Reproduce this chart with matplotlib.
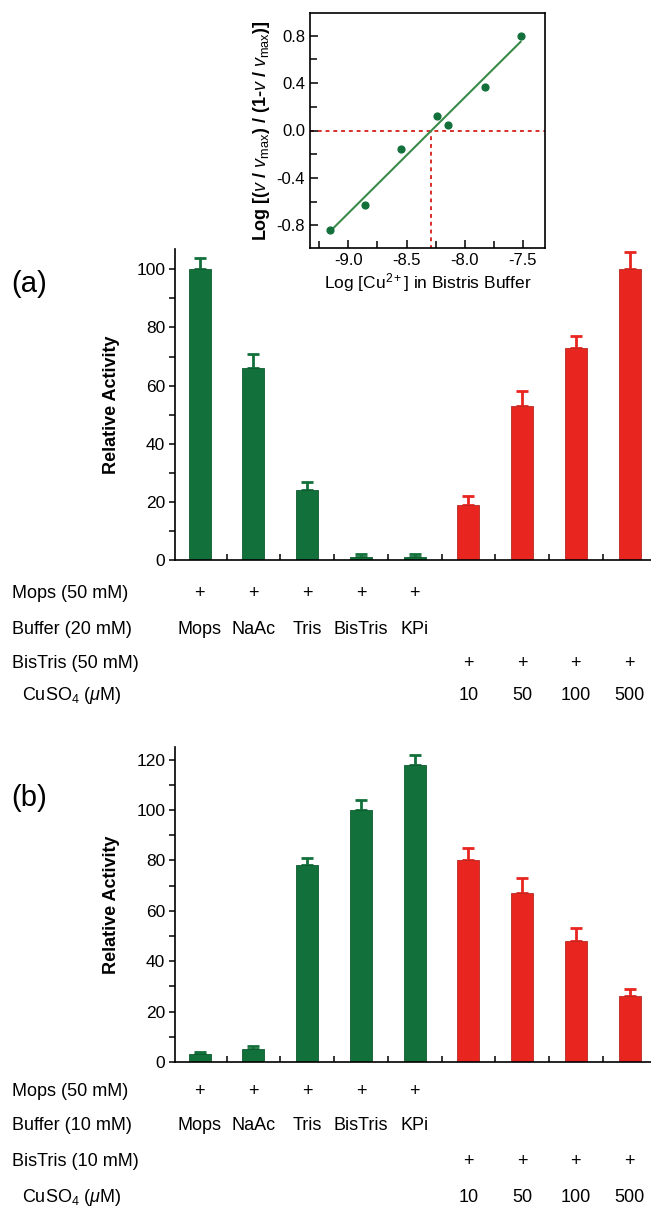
import numpy as np
import matplotlib
matplotlib.use('Agg')
import matplotlib.pyplot as plt
from matplotlib.transforms import blended_transform_factory

plt.rcParams['font.family'] = ['Liberation Sans', 'DejaVu Sans']
plt.rcParams['mathtext.fontset'] = 'custom'
plt.rcParams['mathtext.rm'] = 'Liberation Sans'
plt.rcParams['mathtext.it'] = 'Liberation Sans:italic'
plt.rcParams['mathtext.bf'] = 'Liberation Sans:bold'

# inset data (Hill plot)
log_cu = [-9.16, -8.86, -8.55, -8.24, -8.14, -7.83, -7.52]
log_ratio = [-0.84, -0.63, -0.16, 0.12, 0.05, 0.37, 0.80]

# panel (a)
act_a = [100, 66, 24, 1, 1, 19, 53, 73, 100]
err_a = [4, 5, 3, 1, 1.2, 3, 5, 4, 6]
# panel (b)
act_b = [3, 5, 78, 100, 118, 80, 67, 48, 26]
err_b = [1, 1.5, 3, 4, 4, 5, 6, 5, 3]

buffers = ['Mops', 'NaAc', 'Tris', 'BisTris', 'KPi']
cuso4 = ['10', '50', '100', '500']

GREEN = '#12703a'
RED = '#e8251f'
colors = [GREEN] * 5 + [RED] * 4
edges = ['#0e5a2e'] * 5 + ['#b52a22'] * 4

W, H = 651, 1210
fig = plt.figure(figsize=(W / 100, H / 100), dpi=100)


def fy(py):
    return 1 - py / H


def bar_panel(top, bottom, data, err, ymax, rows, label, label_y):
    ax = fig.add_axes([175 / W, fy(bottom), (W - 175) / W + 0.01, (bottom - top) / H])
    x = np.arange(len(data))
    ax.bar(x, data, width=0.41, color=colors, edgecolor=edges, linewidth=0.6, zorder=2)
    for xi, v, e, c in zip(x, data, err, colors):
        ax.errorbar(xi, v, yerr=[[0], [e]], color=c, capsize=4, elinewidth=2,
                    capthick=2, zorder=1)
    ax.set_xlim(-0.46, 8.52)
    ax.set_ylim(0, ymax)
    ax.spines['top'].set_visible(False)
    ax.spines['right'].set_visible(False)
    ax.set_xticks([])
    ax.set_xticks(np.arange(0.5, 8.5, 1), minor=True)
    ax.tick_params(axis='x', which='minor', direction='in', length=4, width=1.1)
    ax.set_yticks(np.arange(0, ymax, 20))
    ax.set_yticks(np.arange(10, ymax, 20), minor=True)
    ax.tick_params(axis='y', which='major', direction='out', length=4, width=1.1,
                   labelsize=12.5, pad=3)
    ax.tick_params(axis='y', which='minor', direction='out', length=4, width=1.1)
    for s in ('left', 'bottom'):
        ax.spines[s].set_linewidth(1.2)
    ax.set_ylabel('Relative Activity', fontsize=13, fontweight='bold', labelpad=12)

    tr = blended_transform_factory(ax.transData, fig.transFigure)
    names, ys = rows
    for name, py in zip(names, ys):
        xoff = 22 if name.startswith('CuSO') else 12
        fig.text(xoff / W, fy(py), name, fontsize=13, va='center', ha='left')
    for i in range(5):
        ax.text(i, fy(ys[0]), '+', transform=tr, ha='center', va='center', fontsize=13)
        ax.text(i, fy(ys[1]), buffers[i], transform=tr, ha='center', va='center', fontsize=13)
    for j in range(4):
        ax.text(5 + j, fy(ys[2]), '+', transform=tr, ha='center', va='center', fontsize=13)
        ax.text(5 + j, fy(ys[3]), cuso4[j], transform=tr, ha='center', va='center', fontsize=13)
    fig.text(11 / W, fy(label_y), label, fontsize=21, va='center', ha='left')
    return ax


bar_panel(249, 560, act_a, err_a, 107,
          (['Mops (50 mM)', 'Buffer (20 mM)', 'BisTris (50 mM)', r'CuSO$_4$ ($\mu$M)'],
           [593, 630, 664, 696]), '(a)', 284)
bar_panel(747, 1062, act_b, err_b, 125,
          (['Mops (50 mM)', 'Buffer (10 mM)', 'BisTris (10 mM)', r'CuSO$_4$ ($\mu$M)'],
           [1092, 1126, 1162, 1197]), '(b)', 798)

# inset Hill plot
axi = fig.add_axes([310 / W, fy(248), 235 / W, 235 / H])
axi.scatter(log_cu, log_ratio, s=24, color=GREEN, zorder=3)
k, b = np.polyfit(log_cu, log_ratio, 1)
xf = np.array([min(log_cu), max(log_cu)])
axi.plot(xf, k * xf + b, color='#3a8a4a', lw=1.5, zorder=2)
x0 = -b / k
axi.axhline(0, color='#d6302a', ls=(0, (2, 2)), lw=1.4, zorder=1)
axi.plot([x0, x0], [-1.0, 0], color='#d6302a', ls=(0, (2, 2)), lw=1.4, zorder=1)
axi.set_xlim(-9.33, -7.31)
axi.set_ylim(-0.99, 0.99)
axi.set_xticks([-9.0, -8.5, -8.0, -7.5])
axi.set_xticklabels(['-9.0', '-8.5', '-8.0', '-7.5'])
axi.set_xticks(np.arange(-9.25, -7.3, 0.5), minor=True)
axi.set_yticks([-0.8, -0.4, 0.0, 0.4, 0.8])
axi.set_yticklabels(['-0.8', '-0.4', '0.0', '0.4', '0.8'])
axi.set_yticks([-0.6, -0.2, 0.2, 0.6], minor=True)
axi.tick_params(which='major', direction='in', length=6, width=1.1, labelsize=12)
axi.tick_params(which='minor', direction='in', length=5, width=1.1)
for s in axi.spines.values():
    s.set_linewidth(1.2)
axi.set_xlabel(r'Log [Cu$^{2+}$] in Bistris Buffer', fontsize=12.5, labelpad=2)
axi.set_ylabel(r'Log [($\mathbf{\it{v}}$ / $\it{v}_{\rm max}$) / (1-$\it{v}$ / $\it{v}_{\rm max}$)]',
               fontsize=13, fontweight='bold', labelpad=3)

fig.savefig('out.png', dpi=100)
